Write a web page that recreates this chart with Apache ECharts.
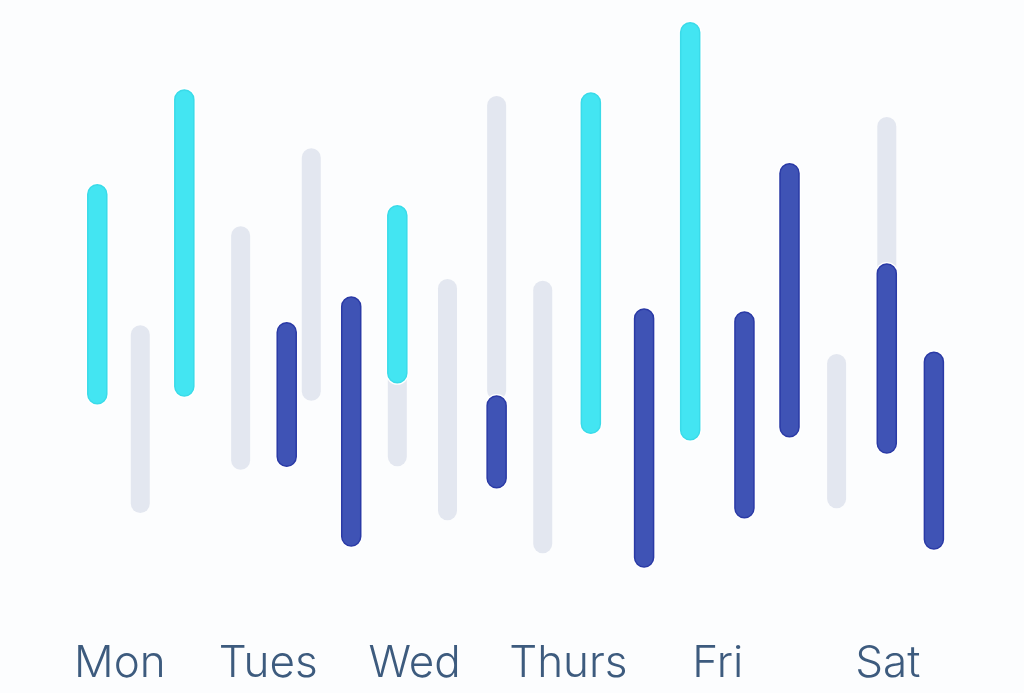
<!DOCTYPE html>
<html>
<head>
<meta charset="utf-8">
<style>
  html, body { margin: 0; padding: 0; background: #fcfdfe; }
  #chart { width: 1024px; height: 693px; }
</style>
<script src="https://cdn.jsdelivr.net/npm/echarts@6/dist/echarts.min.js"></script>
</head>
<body>
<div id="chart"></div>
<script>
// Day labels and their positions along the horizontal scale (0-100)
var dayNames = ['Mon', 'Tues', 'Wed', 'Thurs', 'Fri', 'Sat'];
var dayPos = [11.7, 26.2, 40.5, 55.5, 70.1, 86.7];

// Gray bars: position, low, high
var grayX    = [13.7, 23.5, 30.4, 38.8, 43.7, 48.5, 53.0, 81.7, 86.6];
var grayLow  = [14.5, 21.7, 33.2, 22.3, 13.3, 33.3, 7.8, 15.3, 51.7];
var grayHigh = [45.8, 62.3, 75.3, 43.3, 53.5, 84.0, 53.2, 41.0, 80.5];

// Cyan bars
var cyanX    = [9.5, 18.0, 38.8, 57.7, 67.4];
var cyanLow  = [32.7, 34.0, 36.2, 27.8, 26.7];
var cyanHigh = [69.2, 85.0, 65.7, 84.5, 96.2];

// Navy bars
var navyX    = [28.0, 34.3, 48.5, 62.9, 72.7, 77.1, 86.6, 91.2];
var navyLow  = [22.3, 9.0, 18.7, 5.5, 13.7, 27.2, 24.5, 8.5];
var navyHigh = [46.2, 50.5, 34.0, 48.5, 48.0, 72.7, 56.0, 41.3];

function zip(xs, lows, highs) {
  return xs.map(function (x, i) { return [x, lows[i], highs[i]]; });
}

var BAR_W = 19;

function makeRender(fill, stroke, outline) {
  return function (params, api) {
    var x = api.value(0);
    var top = api.coord([x, api.value(2)]);
    var bot = api.coord([x, api.value(1)]);
    var h = bot[1] - top[1];
    var children = [];
    if (outline) {
      children.push({
        type: 'rect',
        shape: { x: top[0] - BAR_W / 2 - 2, y: top[1] - 2, width: BAR_W + 4, height: h + 4, r: BAR_W / 2 + 2 },
        style: { fill: '#ffffff' }
      });
    }
    children.push({
      type: 'rect',
      shape: { x: top[0] - BAR_W / 2, y: top[1], width: BAR_W, height: h, r: BAR_W / 2 },
      style: stroke ? { fill: fill, stroke: stroke, lineWidth: 1.5 } : { fill: fill }
    });
    return { type: 'group', children: children };
  };
}

var chart = echarts.init(document.getElementById('chart'));
chart.setOption({
  backgroundColor: '#fcfdfe',
  animation: false,
  grid: { left: 0, right: 0, top: 0, bottom: 93 },
  xAxis: {
    type: 'value', min: 0, max: 100,
    axisLine: { show: false }, axisTick: { show: false }, splitLine: { show: false },
    axisLabel: {
      customValues: dayPos,
      margin: 42,
      color: '#3d5b7e',
      fontSize: 44,
      fontWeight: 300,
      fontFamily: 'Inter, "Open Sans", sans-serif',
      formatter: function (v) {
        var idx = dayPos.indexOf(v);
        return idx >= 0 ? dayNames[idx] : '';
      }
    }
  },
  yAxis: {
    type: 'value', min: 0, max: 100, show: false
  },
  series: [
    { type: 'custom', renderItem: makeRender('#e3e7f0', null, false), data: zip(grayX, grayLow, grayHigh), encode: { x: 0, y: [1, 2] } },
    { type: 'custom', renderItem: makeRender('#43e5f2', '#3adbe9', true), data: zip(cyanX, cyanLow, cyanHigh), encode: { x: 0, y: [1, 2] } },
    { type: 'custom', renderItem: makeRender('#3f53b5', '#2a3aa6', true), data: zip(navyX, navyLow, navyHigh), encode: { x: 0, y: [1, 2] } }
  ]
});
</script>
</body>
</html>
